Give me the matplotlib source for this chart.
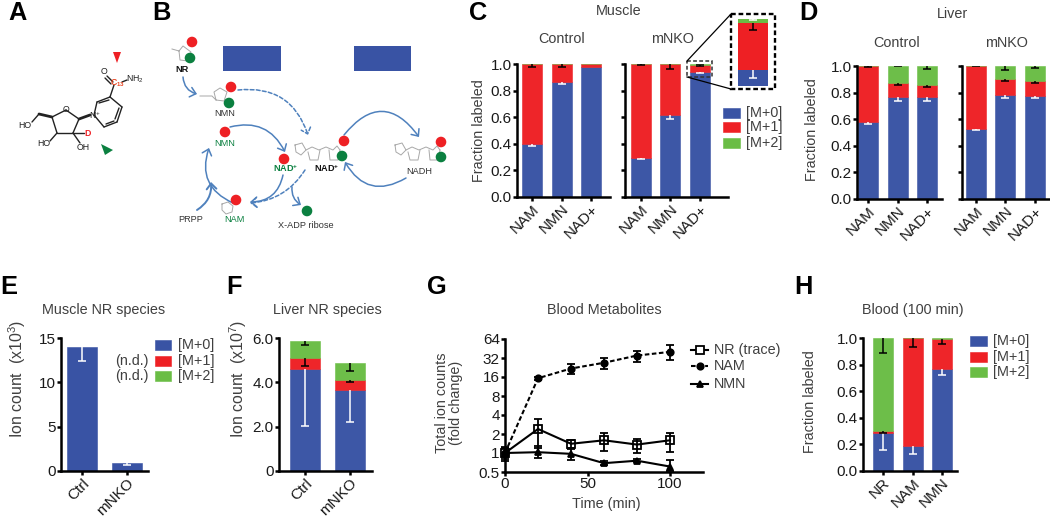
import matplotlib
matplotlib.use("Agg")
import matplotlib.pyplot as plt
from matplotlib.patches import FancyArrowPatch, Rectangle, Circle, Polygon

plt.rcParams['font.family'] = ['Liberation Sans', 'DejaVu Sans']
plt.rcParams['mathtext.default'] = 'regular'
plt.rcParams['axes.linewidth'] = 1.8

# ---------- data ----------
metabolites = ['NAM', 'NMN', 'NAD+']
species = ['[M+0]', '[M+1]', '[M+2]']

c_ctrl_m0 = [0.40, 0.865, 0.98]
c_ctrl_m1 = [0.60, 0.135, 0.02]
c_ctrl_m2 = [0.0, 0.0, 0.0]
c_ctrl_e0 = [0.02, 0.015, 0.0]
c_ctrl_e1 = [0.02, 0.02, 0.0]
c_ctrl_e2 = [0.0, 0.0, 0.0]

c_ko_m0 = [0.295, 0.62, 0.94]
c_ko_m1 = [0.705, 0.38, 0.055]
c_ko_m2 = [0.0, 0.0, 0.005]
c_ko_e0 = [0.01, 0.03, 0.01]
c_ko_e1 = [0.01, 0.035, 0.008]
c_ko_e2 = [0.0, 0.0, 0.001]

d_ctrl_m0 = [0.58, 0.765, 0.77]
d_ctrl_m1 = [0.42, 0.11, 0.09]
d_ctrl_m2 = [0.0, 0.125, 0.14]
d_ctrl_e0 = [0.015, 0.025, 0.03]
d_ctrl_e1 = [0.01, 0.015, 0.02]
d_ctrl_e2 = [0.0, 0.002, 0.02]

d_ko_m0 = [0.525, 0.78, 0.775]
d_ko_m1 = [0.475, 0.125, 0.11]
d_ko_m2 = [0.0, 0.095, 0.115]
d_ko_e0 = [0.005, 0.02, 0.015]
d_ko_e1 = [0.002, 0.02, 0.01]
d_ko_e2 = [0.0, 0.03, 0.015]

groups = ['Ctrl', 'mNKO']
e_m0 = [14.0, 0.95]
e_e0 = [1.6, 0.25]

f_m0 = [4.61, 3.66]
f_m1 = [0.50, 0.46]
f_m2 = [0.74, 0.74]
f_e0 = [2.57, 1.44]
f_e1 = [0.36, 0.12]
f_e2 = [0.17, 0.36]

g_time = [0, 20, 40, 60, 80, 100]
g_nr = [1.0, 2.4, 1.4, 1.59, 1.36, 1.59]
g_nr_lo = [0.8, 1.2, 1.17, 1.07, 0.99, 1.03]
g_nr_hi = [1.2, 3.4, 1.62, 2.1, 1.65, 2.1]
g_nam = [1.0, 15.3, 21.8, 26.9, 35.0, 40.0]
g_nam_lo = [0.85, 14.5, 18.0, 21.5, 28.0, 30.0]
g_nam_hi = [1.2, 16.2, 26.0, 32.5, 42.0, 52.0]
g_nmn = [1.0, 1.03, 0.97, 0.69, 0.755, 0.61]
g_nmn_lo = [0.75, 0.84, 0.78, 0.65, 0.72, 0.52]
g_nmn_hi = [1.25, 1.27, 1.2, 0.75, 0.79, 0.78]

h_labels = ['NR', 'NAM', 'NMN']
h_m0 = [0.282, 0.19, 0.768]
h_m1 = [0.018, 0.81, 0.227]
h_m2 = [0.70, 0.0, 0.005]
h_e0 = [0.126, 0.064, 0.043]
h_e1 = [0.013, 0.065, 0.04]
h_e2 = [0.113, 0.0, 0.0]

fraction_ticks = [0.0, 0.2, 0.4, 0.6, 0.8, 1.0]
fraction_ticklabels = ['0.0', '0.2', '0.4', '0.6', '0.8', '1.0']
g_yticks = [0.5, 1, 2, 4, 8, 16, 32, 64]
g_yticklabels = ['0.5', '1', '2', '4', '8', '16', '32', '64']

# ---------- style ----------
W, H = 1050, 520
BLUE, RED, GREEN = '#3953A4', '#EE2024', '#6ABD45'
DGREEN, ARROW, SKETCH = '#0B8040', '#4F81BD', '#A8A8A8'
TXT, SOFT = '#1a1a1a', '#404040'
FS = 10.4
TFS = 11.0

fig = plt.figure(figsize=(W / 100, H / 100), dpi=100, facecolor='white')
ov = fig.add_axes([0, 0, 1, 1], zorder=0)
ov.set_xlim(0, W)
ov.set_ylim(H, 0)
ov.axis('off')
top = fig.add_axes([0, 0, 1, 1], zorder=5)
top.set_xlim(0, W)
top.set_ylim(H, 0)
top.axis('off')
top.patch.set_alpha(0)


def make_ax(l, r, t, b):
    ax = fig.add_axes([l / W, 1 - b / H, (r - l) / W, (b - t) / H], zorder=2)
    ax.patch.set_alpha(0)
    ax.spines['top'].set_visible(False)
    ax.spines['right'].set_visible(False)
    ax.tick_params(axis='both', width=1.8, length=3.2, labelsize=TFS, colors='black',
                   labelcolor=TXT, pad=0.5)
    return ax


def ylabel(ax, text, px, py, fontsize=FS, **kw):
    ax.set_ylabel(text, fontsize=fontsize, color=SOFT, **kw)
    ax.yaxis.set_label_coords(px, py, transform=ov.transData)
    ax.yaxis.label.set_va('center')
    ax.yaxis.label.set_ha('center')


def title(ax, text, fx, fy):
    ax.set_title(text, fontsize=FS, color=SOFT, x=fx, y=fy, va='center', pad=0)


def err(ax, x, y, e, color):
    if e <= 0:
        return
    _, caps, bars = ax.errorbar([x], [y], yerr=[[e], [0]], fmt='none', ecolor=color,
                                elinewidth=1.1, capsize=3.0, capthick=1.1, zorder=4)
    caps[1].set_visible(False)


def stacked(ax, labels, stacks, errs, spacing, bar_px, c0_px, left_px, right_px):
    colors = [BLUE, RED, GREEN]
    ecol = ['white', 'black', 'black']
    pos = list(range(len(labels)))
    bottom = [0.0] * len(labels)
    for vals, es, c, ec in zip(stacks, errs, colors, ecol):
        ax.bar(pos, vals, width=bar_px / spacing, bottom=bottom, color=c, edgecolor=c,
               linewidth=0.4, alpha=0.98, zorder=2)
        tops = [b + v for b, v in zip(bottom, vals)]
        for p, t, v, e in zip(pos, tops, vals, es):
            if v > 0:
                err(ax, p, t, e, ec)
        bottom = tops
    ax.set_xlim((left_px - c0_px) / spacing, (right_px - c0_px) / spacing)
    ax.set_xticks(pos)
    ax.set_xticklabels(labels, rotation=45, ha='right', rotation_mode='anchor', fontsize=TFS)


def frac_axis(ax, show):
    ax.set_ylim(0, 1)
    ax.set_yticks(fraction_ticks)
    ax.set_yticklabels(fraction_ticklabels if show else [])


def legend_boxes(x0, x1, x_text, ys, h=9.5):
    for name, c, y in zip(species, [BLUE, RED, GREEN], ys):
        ov.add_patch(Rectangle((x0, y - h / 2), x1 - x0, h, fc=c, ec=c, lw=0.4))
        ov.text(x_text, y, name, fontsize=FS, color=SOFT, va='center', ha='left')


# ---------- panel letters ----------
for s, x, y in [('A', 8, 20), ('B', 152, 20), ('C', 469, 20), ('D', 799, 20),
                ('E', 0, 294), ('F', 226, 294), ('G', 427, 294), ('H', 794, 294)]:
    ov.text(x, y, s, fontsize=18.3, fontweight='bold', color='black', va='baseline', ha='left')

# ---------- C ----------
ax = make_ax(517, 610, 64, 197)
stacked(ax, metabolites, [c_ctrl_m0, c_ctrl_m1, c_ctrl_m2], [c_ctrl_e0, c_ctrl_e1, c_ctrl_e2],
        29.5, 20, 532, 517, 610)
frac_axis(ax, True)
ylabel(ax, 'Fraction labeled', 479, 131)
title(ax, 'Control', (562 - 517) / 93, (197 - 39) / 133)

ax = make_ax(625, 728, 64, 197)
stacked(ax, metabolites, [c_ko_m0, c_ko_m1, c_ko_m2], [c_ko_e0, c_ko_e1, c_ko_e2],
        29.3, 20, 641, 625, 728)
frac_axis(ax, False)
title(ax, 'mNKO', (672 - 625) / 103, (197 - 39) / 133)
ov.text(619, 11, 'Muscle', fontsize=FS, color=SOFT, ha='center', va='center')
legend_boxes(723, 740, 746, [113, 127, 143])

# inset of the mNKO NAD+ bar
ins = fig.add_axes([738 / W, 1 - 86 / H, 30 / W, 67 / H], zorder=3)
ins.patch.set_alpha(0)
ins.axis('off')
ins.bar([0], [c_ko_m0[2]], width=1, color=BLUE)
ins.bar([0], [c_ko_m1[2]], width=1, bottom=[c_ko_m0[2]], color=RED)
ins.bar([0], [c_ko_m2[2]], width=1, bottom=[c_ko_m0[2] + c_ko_m1[2]], color=GREEN)
err(ins, 0, c_ko_m0[2], c_ko_e0[2], 'white')
err(ins, 0, c_ko_m0[2] + c_ko_m1[2], c_ko_e1[2], 'black')
err(ins, 0, 1.0, c_ko_e2[2], 'white')
ins.set_xlim(-0.5, 0.5)
ins.set_ylim(0.921, 1.0)

top.add_patch(Rectangle((731, 14), 44, 75, fc='none', ec='black', lw=1.7, ls=(0, (2, 1.2))))
top.add_patch(Rectangle((687, 61), 25, 16, fc='none', ec='#333333', lw=1.1, ls=(0, (2.5, 1.5))))
top.plot([687, 731], [61, 14], color='black', lw=0.9)
top.plot([687, 731], [77, 89], color='black', lw=0.9)

# ---------- D ----------
ax = make_ax(857, 942, 66, 199)
stacked(ax, metabolites, [d_ctrl_m0, d_ctrl_m1, d_ctrl_m2], [d_ctrl_e0, d_ctrl_e1, d_ctrl_e2],
        29.5, 20, 868, 857, 942)
frac_axis(ax, True)
ylabel(ax, 'Fraction labeled', 812, 130)
title(ax, 'Control', (897 - 857) / 85, (199 - 43) / 133)

ax = make_ax(962, 1050, 66, 199)
stacked(ax, metabolites, [d_ko_m0, d_ko_m1, d_ko_m2], [d_ko_e0, d_ko_e1, d_ko_e2],
        29.3, 20, 976, 962, 1050)
frac_axis(ax, False)
title(ax, 'mNKO', (1006 - 962) / 88, (199 - 43) / 133)
ov.text(953, 14, 'Liver', fontsize=FS, color=SOFT, ha='center', va='center')

# ---------- E ----------
ax = make_ax(61, 148, 338, 471)
ax.bar([0, 1], e_m0, width=30 / 45, color=BLUE, edgecolor=BLUE, linewidth=0.4, zorder=2)
for p, v, e in zip([0, 1], e_m0, e_e0):
    err(ax, p, v, e, 'white')
ax.set_xlim((61 - 82) / 45, (148 - 82) / 45)
ax.set_ylim(0, 15)
ax.set_yticks([0, 5, 10, 15])
ax.set_xticks([0, 1])
ax.set_xticklabels(groups, rotation=45, ha='right', rotation_mode='anchor', fontsize=TFS)
ylabel(ax, 'Ion count  (x10$^{3}$)', 17, 379, fontsize=11.4)
title(ax, 'Muscle NR species', (104 - 61) / 87, (471 - 310) / 133)
legend_boxes(155, 171, 178, [345, 361, 376])
ov.text(149, 361, '(n.d.)', fontsize=FS, color=SOFT, ha='right', va='center')
ov.text(149, 376, '(n.d.)', fontsize=FS, color=SOFT, ha='right', va='center')

# ---------- F ----------
ax = make_ax(279, 372, 338, 471)
stacked(ax, groups, [f_m0, f_m1, f_m2], [f_e0, f_e1, f_e2], 45, 30, 305, 279, 372)
ax.set_ylim(0, 6)
ax.set_yticks([0, 2, 4, 6])
ax.set_yticklabels(['0', '2.0', '4.0', '6.0'])
ylabel(ax, 'Ion count  (x10$^{7}$)', 238, 379, fontsize=11.4)
title(ax, 'Liver NR species', (327 - 279) / 93, (471 - 310) / 133)

# ---------- G ----------
ax = make_ax(505, 703, 339, 472)
series = [('NR (trace)', g_nr, g_nr_lo, g_nr_hi, 's', '-', 'none', 5.6),
          ('NAM', g_nam, g_nam_lo, g_nam_hi, 'o', (0, (2.2, 1.2)), 'black', 4.6),
          ('NMN', g_nmn, g_nmn_lo, g_nmn_hi, '^', '-', 'black', 5.0)]
for name, y, lo, hi, mk, ls, mfc, ms in series:
    ax.errorbar(g_time, y, yerr=[[a - b for a, b in zip(y, lo)], [b - a for a, b in zip(y, hi)]],
                color='black', ls=ls, lw=1.5, marker=mk, ms=ms, mfc=mfc, mec='black', mew=1.3,
                elinewidth=1.3, capsize=2.6, capthick=1.3, clip_on=False, zorder=3, label=name)
ax.set_yscale('log', base=2)
ax.set_ylim(0.5, 64)
ax.set_xlim(0, 120)
ax.set_yticks(g_yticks)
ax.set_yticklabels(g_yticklabels)
ax.minorticks_off()
ax.set_xticks([0, 50, 100])
ax.set_xlabel('Time (min)', fontsize=FS, color=SOFT)
ax.xaxis.set_label_coords(606, 504, transform=ov.transData)
ax.xaxis.label.set_va('center')
ylabel(ax, 'Total ion counts\n(fold change)', 449, 403, linespacing=1.05)
title(ax, 'Blood Metabolites', (604 - 505) / 198, (472 - 310) / 133)
for (name, _, _, _, mk, ls, mfc, ms), yy in zip(series, [350, 366, 384]):
    ov.plot([691, 708], [yy, yy], color='black', ls=ls, lw=1.5)
    ov.plot([699.5], [yy], marker=mk, ms=ms, mfc='white' if mfc == 'none' else mfc, mec='black', mew=1.3)
    ov.text(714, yy, name, fontsize=FS, color=SOFT, va='center', ha='left')

# ---------- H ----------
ax = make_ax(863, 957, 338, 471)
stacked(ax, h_labels, [h_m0, h_m1, h_m2], [h_e0, h_e1, h_e2], 29.5, 20, 883, 863, 957)
frac_axis(ax, True)
ylabel(ax, 'Fraction labeled', 810, 402)
title(ax, 'Blood (100 min)', (913 - 863) / 94, (471 - 310) / 133)
legend_boxes(970, 987, 993, [341, 357, 372])


# ---------- A: labelled nicotinamide riboside ----------
def bond(p, q, c='#222222', lw=1.0):
    ov.plot([p[0], q[0]], [p[1], q[1]], color=c, lw=lw, solid_capstyle='round')


O, C1, C2, C3, C4 = (66, 110), (79, 119), (73, 133), (57, 133), (52, 117)
for p, q in [(O, C1), (C1, C2), (C2, C3), (C3, C4), (C4, O), (C3, (50, 141)),
             (C2, (80, 143)), (C2, (84, 133))]:
    bond(p, q)
bond(C4, (39, 114), lw=2.0)
bond((39, 114), (32, 122))
bond(C1, (90, 115), lw=2.0)
N, a, b, c, d, e = (94, 115), (97, 102), (110, 97), (122, 107), (117, 122), (104, 127)
for p, q in [(N, a), (a, b), (b, c), (c, d), (d, e), (e, N), ((99, 103), (109, 100)),
             ((119, 108), (115, 119)), ((106, 124), (114, 121)), (b, (114, 85)),
             ((113, 82), (107, 76)), ((111, 84), (105, 78)), ((122, 82), (127, 80))]:
    bond(p, q)
chem = dict(fontsize=6.3, color='#222222', ha='center', va='center')
ov.text(25, 125, 'HO', **chem)
ov.text(44, 144, 'HO', **chem)
ov.text(83, 147, 'OH', **chem)
ov.text(66, 109, 'O', **chem)
ov.text(95, 115, 'N$^{+}$', **chem)
ov.text(104, 71, 'O', **chem)
ov.text(135, 79, 'NH$_{2}$', **chem)
ov.text(118, 83, 'C$_{13}$', fontsize=6.3, color='#E8431F', ha='center', va='center', fontweight='bold')
ov.text(88, 133, 'D', fontsize=6.3, color=RED, ha='center', va='center', fontweight='bold')
ov.add_patch(Polygon([(113, 52), (121, 52), (117, 63)], fc=RED, ec='none'))
ov.add_patch(Polygon([(101, 144), (113, 150), (105, 155)], fc=DGREEN, ec='none'))

# ---------- B: pathway ----------
ov.add_patch(Rectangle((223, 46), 58, 25, fc=BLUE, ec='none'))
ov.add_patch(Rectangle((354, 46), 57, 25, fc=BLUE, ec='none'))


def sketch(pts):
    ov.plot([p[0] for p in pts], [p[1] for p in pts], color=SKETCH, lw=0.7, zorder=1)


sketch([(172, 49), (179, 51), (180, 60), (188, 61), (191, 52), (183, 46), (179, 51)])
sketch([(200, 96), (212, 96), (216, 100), (224, 101), (227, 92), (220, 88), (214, 92), (216, 100)])
sketch([(222, 204), (228, 202), (233, 206), (232, 212), (226, 214), (222, 210), (222, 204)])
for dx in (0, 100):
    sketch([(295 + dx, 145), (302 + dx, 143), (306 + dx, 150), (301 + dx, 155), (296 + dx, 152), (295 + dx, 145)])
    sketch([(306 + dx, 150), (312 + dx, 147), (319 + dx, 150), (326 + dx, 147), (333 + dx, 150),
            (337 + dx, 146), (340 + dx, 150)])
    sketch([(308 + dx, 152), (310 + dx, 160), (318 + dx, 160), (320 + dx, 150)])
    sketch([(329 + dx, 150), (330 + dx, 160), (338 + dx, 160), (340 + dx, 150)])


def arrow(p, q, rad, dashed=False, lw=1.1):
    ov.add_patch(FancyArrowPatch(p, q, connectionstyle=f'arc3,rad={rad}', arrowstyle='->,head_length=4,head_width=3.5',
                                 color=ARROW, lw=lw, ls=(0, (2.5, 1.5)) if dashed else '-',
                                 shrinkA=0, shrinkB=0, mutation_scale=1, zorder=1))


arrow((183, 77), (197, 94), 0.35)
arrow((238, 90), (308, 135), -0.4, dashed=True)
arrow((305, 170), (250, 203), -0.25, dashed=True)
arrow((230, 127), (285, 152), -0.4)
arrow((283, 175), (250, 202), -0.4)
arrow((233, 203), (209, 148), -0.45)
arrow((197, 210), (211, 182), 0.3, lw=1.4)
arrow((292, 187), (301, 205), 0.3)
arrow((344, 135), (419, 137), -0.65)
arrow((406, 178), (345, 162), -0.5)

for x, y, col in [(192, 42, RED), (190, 58, DGREEN), (231, 87, RED), (229, 103, DGREEN),
                  (225, 132, RED), (284, 159, RED), (236, 200, RED), (307, 211, DGREEN),
                  (344, 141, RED), (342, 156, DGREEN), (441, 142, RED), (441, 157, DGREEN)]:
    ov.add_patch(Circle((x, y), 5.3, fc=col, ec='none', zorder=3))

lab = dict(fontsize=6.6, ha='center', va='center')
ov.text(182, 70, 'NR', fontweight='bold', color='#111111', **lab)
ov.text(225, 113, 'NMN', color='#333333', **lab)
ov.text(225, 143, 'NMN', color=DGREEN, **lab)
ov.text(286, 168, 'NAD$^{+}$', fontweight='bold', color=DGREEN, **lab)
ov.text(327, 168, 'NAD$^{+}$', fontweight='bold', color='#111111', **lab)
ov.text(419, 171, 'NADH', color='#333333', **lab)
ov.text(234, 220, 'NAM', color=DGREEN, **lab)
ov.text(191, 220, 'PRPP', color='#333333', **lab)
ov.text(306, 226, 'X-ADP ribose', color='#333333', **lab)

fig.savefig('out.png', dpi=100, facecolor='white')
